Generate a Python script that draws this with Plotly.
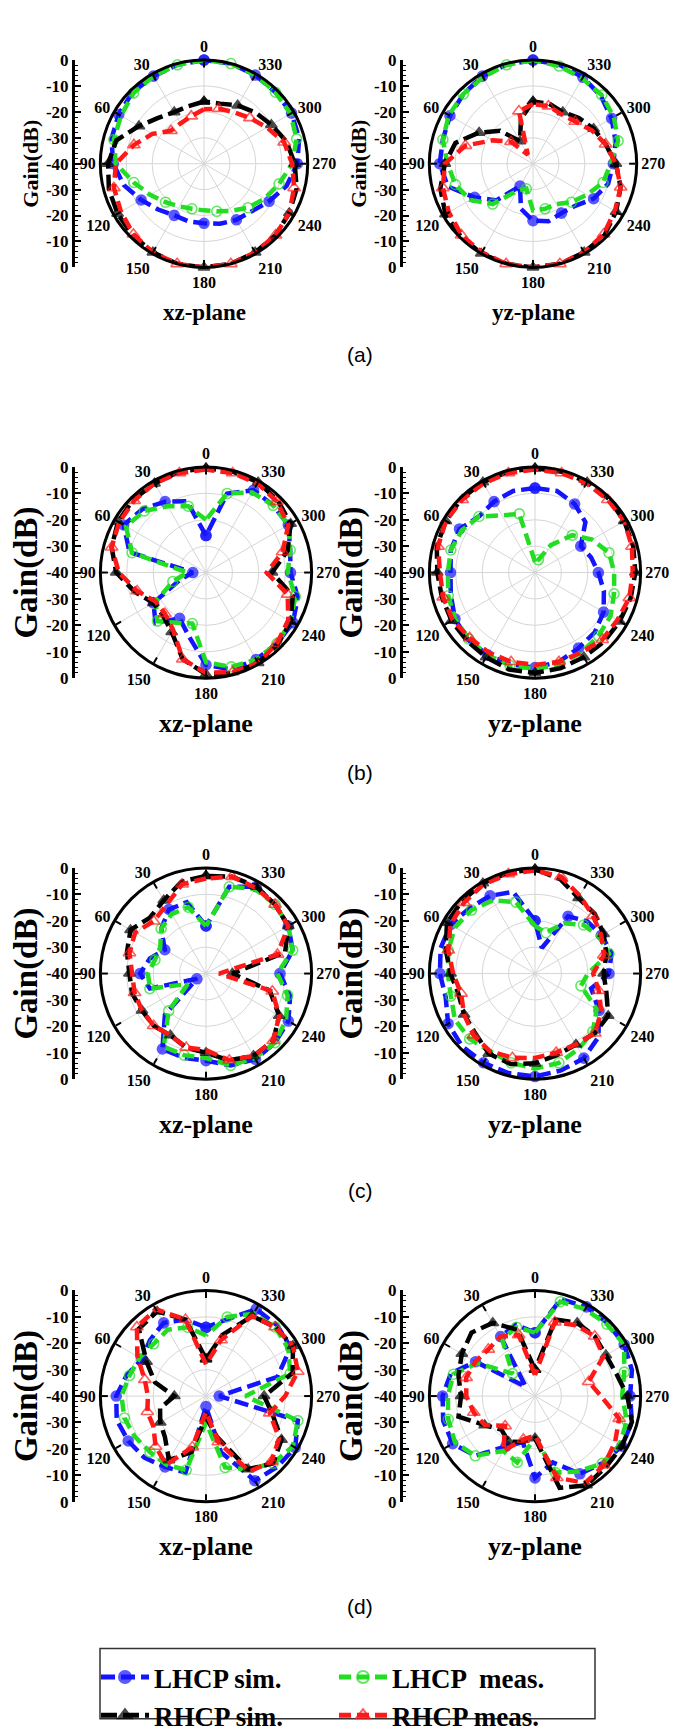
import plotly.graph_objects as go

W, H = 678, 1732
SERIF = "Liberation Serif"
SANS = "Liberation Sans"

# ---------------- data ----------------
ANGLES = list(range(0, 360, 15))
ANG_TICKS = list(range(0, 360, 30))
GAIN_TICKS = ["0", "-10", "-20", "-30", "-40", "-30", "-20", "-10", "0"]
SERIES_NAMES = ["LHCP sim.", "LHCP  meas.", "RHCP sim.", "RHCP meas."]
PANEL_LABELS = ["(a)", "(b)", "(c)", "(d)"]
PLANE_LABELS = ["xz-plane", "yz-plane"]

A_XZ_LHCP_SIM = [0, -0.5, -1, -1, -2, -3, -5, -8, -12, -15, -17, -17, -17, -16, -15, -14, -11, -7, -4, -2, -1, -1, -0.5, 0]
A_XZ_LHCP_MEAS = [0, -0.5, -1, -1.5, -3, -4, -6, -12, -16, -19, -21, -22, -22, -21, -19, -16, -13, -10, -6, -3, -1.5, -1, -0.5, 0]
A_XZ_RHCP_SIM = [-16, -17, -17, -15, -11, -5, -3, -2, -1.5, -1, -0.5, 0, 0, 0, -0.5, -1, -2, -3, -5, -7, -10, -12, -14, -16]
A_XZ_RHCP_MEAS = [-19, -21, -22, -22, -17, -12, -6, -4, -3, -1.5, -0.5, 0, 0, 0, -0.5, -1, -2, -4, -6, -8, -12, -15, -17, -18]

A_YZ_LHCP_SIM = [0, -0.5, -1, -2, -3, -4, -4, -6, -14, -20, -30, -22, -18, -17, -18, -17, -13, -10, -9, -7, -5, -3, -1.5, -0.5]
A_YZ_LHCP_MEAS = [0, -0.5, -1.5, -2, -2.5, -4, -7, -9, -12, -18, -28, -30, -22, -22, -22, -19, -16, -12, -10, -6, -4, -2.5, -2, -1]
A_YZ_RHCP_SIM = [-16, -22, -30, -22, -16, -9, -6, -3, -1, -0.5, 0, 0, 0, 0, -0.5, -1, -3, -5, -8, -11, -13, -15, -17, -16]
A_YZ_RHCP_MEAS = [-17, -19, -36, -28, -22, -13, -6, -4, -2.5, -1, -0.5, 0, 0, 0, -0.5, -1.5, -3.5, -5, -8, -11, -14, -17, -18, -17]

B_XZ_LHCP_SIM = [-26, -12, -9, -6, -4, -10, -35, -30, -17, -13, -20, -15, -5, -2, -2, -2, -2, -4, -8, -7, -4, -4, -4, -9]
B_XZ_LHCP_MEAS = [-20, -14, -11, -7, -5, -11, -33, -27, -18, -14, -18, -20, -6, -3, -2, -2, -3, -5, -9, -7, -4, -4, -5, -9]
B_XZ_RHCP_SIM = [-0.5, -0.5, -1, -1, -1.5, -3, -6, -12, -17, -17, -14, -6, -1.5, -0.5, -0.5, -1.5, -3, -6, -15, -8, -3, -1.5, -0.5, -0.5]
B_XZ_RHCP_MEAS = [-1, -1, -1, -1.5, -2, -3, -7, -13, -18, -18, -15, -6, -2, -1, -0.5, -2, -4, -8, -17, -10, -4, -2, -1, -1]

B_YZ_LHCP_SIM = [-8, -8, -9, -10, -7, -7, -8, -7, -5, -4, -4, -4, -4, -5, -7, -8, -10, -13, -16, -18, -20, -13, -10, -8]
B_YZ_LHCP_MEAS = [-36, -17, -15, -10, -8, -7, -7, -6, -5, -4.5, -4, -3.5, -3.5, -4, -5, -6, -7, -9, -10, -11, -15, -20, -28, -35]
B_YZ_RHCP_SIM = [-0.5, -0.5, -0.5, -0.5, -1, -1.5, -3, -3.5, -3.5, -3.5, -3, -2, -2, -2.5, -3, -3, -3, -2.5, -2, -1.5, -1, -0.5, -0.5, -0.5]
B_YZ_RHCP_MEAS = [-1, -1, -1, -1, -1, -2, -4, -4, -4, -5, -5, -5, -5, -5, -5, -4, -4, -3, -3, -2, -1, -1, -1, -1]

C_XZ_LHCP_SIM = [-22, -12, -12, -16, -22, -18, -15, -18, -36, -18, -7, -7, -7, -4, -2.5, -3, -4, -7, -12, -6, -4, -3, -2, -6]
C_XZ_LHCP_MEAS = [-22, -14, -14, -16, -20, -20, -18, -18, -32, -20, -8, -8, -8, -4, -3, -3, -5, -8, -13, -6, -4, -3, -3, -6]
C_XZ_RHCP_SIM = [-3, -4, -8, -10, -7, -9, -11, -11, -12, -12, -13, -11, -10, -6, -4, -4, -8, -15, -30, -9, -4, -3, -2, -2]
C_XZ_RHCP_MEAS = [-4, -5, -10, -12, -9, -10, -12, -12, -12, -12, -13, -11, -11, -6, -4, -4, -8, -14, -35, -12, -4, -3, -2.5, -2]

C_YZ_LHCP_SIM = [-20, -8, -6, -5, -3, -3, -4, -5, -2, -1, -1, -1, -1, -2, -3, -6, -12, -18, -12, -10, -11, -12, -15, -30]
C_YZ_LHCP_MEAS = [-22, -12, -8, -6, -5, -6, -7, -7, -5, -5, -6, -5, -4, -5, -7, -9, -13, -22, -20, -11, -12, -14, -18, -24]
C_YZ_RHCP_SIM = [-0.5, -0.5, -0.5, -1, -1.5, -5, -8, -10, -9, -8, -5, -4.5, -6, -8, -9, -8, -8, -12, -14, -12, -10, -8, -7, -3]
C_YZ_RHCP_MEAS = [-1, -1, -1, -2, -3, -6, -9, -11, -9, -7, -6, -7, -8, -9, -9, -8, -11, -15, -18, -13, -11, -9, -6, -2]

D_XZ_LHCP_SIM = [-14, -10, -8, -10, -12, -9, -6, -5, -6, -7, -9, -10, -36, -18, -3, -2, -1, -4, -35, -12, -3, -2, -2, -10]
D_XZ_LHCP_MEAS = [-17, -13, -11, -12, -11, -10, -8, -8, -9, -10, -10, -11, -30, -12, -8, -4, -2, -4, -25, -7, -4, -3, -4, -9]
D_XZ_RHCP_SIM = [-26, -10, -3, -4, -14, -20, -28, -22, -20, -18, -12, -18, -32, -24, -8, -4, -7, -14, -18, -6, -2, -3, -5, -16]
D_XZ_RHCP_MEAS = [-28, -10, -2, -3, -10, -16, -18, -17, -17, -13, -10, -20, -34, -22, -7, -5, -8, -15, -10, -4, -2, -3, -5, -18]

D_YZ_LHCP_SIM = [-16, -12, -14, -35, -14, -7, -5, -4, -4, -8, -18, -22, -9, -14, -6, -4, -2, -2, -4, -2, -1, -1, -1, -2]
D_YZ_LHCP_MEAS = [-16, -13, -15, -28, -15, -8, -7, -6, -5, -8, -16, -14, -24, -10, -7, -4, -3, -4, -7, -5, -1, -1.5, -2, -3]
D_YZ_RHCP_SIM = [-30, -14, -8, -6, -8, -10, -12, -10, -18, -22, -20, -22, -24, -4, -1, -2, -2, -2, -5, -8, -9, -8, -8, -10]
D_YZ_RHCP_MEAS = [-32, -16, -14, -15, -14, -13, -14, -16, -18, -24, -16, -23, -25, -8, -2, -3, -5, -7, -15, -19, -10, -8, -9, -11]

PANELS = [
    [(A_XZ_LHCP_SIM, A_XZ_LHCP_MEAS, A_XZ_RHCP_SIM, A_XZ_RHCP_MEAS),
     (A_YZ_LHCP_SIM, A_YZ_LHCP_MEAS, A_YZ_RHCP_SIM, A_YZ_RHCP_MEAS)],
    [(B_XZ_LHCP_SIM, B_XZ_LHCP_MEAS, B_XZ_RHCP_SIM, B_XZ_RHCP_MEAS),
     (B_YZ_LHCP_SIM, B_YZ_LHCP_MEAS, B_YZ_RHCP_SIM, B_YZ_RHCP_MEAS)],
    [(C_XZ_LHCP_SIM, C_XZ_LHCP_MEAS, C_XZ_RHCP_SIM, C_XZ_RHCP_MEAS),
     (C_YZ_LHCP_SIM, C_YZ_LHCP_MEAS, C_YZ_RHCP_SIM, C_YZ_RHCP_MEAS)],
    [(D_XZ_LHCP_SIM, D_XZ_LHCP_MEAS, D_XZ_RHCP_SIM, D_XZ_RHCP_MEAS),
     (D_YZ_LHCP_SIM, D_YZ_LHCP_MEAS, D_YZ_RHCP_SIM, D_YZ_RHCP_MEAS)],
]

# ---------------- layout geometry (px) ----------------
ROW_CY = [150, 568, 978, 1410]
ROW_R = [106, 108, 108, 108]
AXIS_X = [67, 395]          # Gain(dB) scale line, left / right column
LEFT_GAP = [23, 24]         # circle left edge distance from scale line
TITLE_SIZE = [22, 33, 33, 33]
PLANE_SIZE = [23, 26, 26, 26]
LETTER_Y = [345, 772, 1200, 1625]

STYLES = [
    dict(color="#1414ff", symbol="circle", dash="14px,6px", width=4.5, size=10, legend="legend", even=True),
    dict(color="#22dd22", symbol="circle-open", dash="12px,6px", width=4.5, size=10, legend="legend2", even=False),
    dict(color="#000000", symbol="triangle-up", dash="16px,6px", width=4.5, size=10, legend="legend", even=True),
    dict(color="#ff1818", symbol="triangle-up-open", dash="12px,6px", width=4.5, size=11, legend="legend2", even=False),
]


def fx(px):
    return px / W


def fy(py):
    return 1 - py / H


fig = go.Figure()
layout = {}
annotations = []
k = 0
for row in range(4):
    cy, R = ROW_CY[row], ROW_R[row]
    for col in range(2):
        k += 1
        ax_px = AXIS_X[col]
        cx = ax_px + LEFT_GAP[col] + R
        pname = "polar" if k == 1 else f"polar{k}"
        series = PANELS[row][col]
        for si in range(4):
            st = STYLES[si]
            vals = list(series[si])
            theta = ANGLES + [ANGLES[0]]
            r = vals + [vals[0]]
            sizes = [(st["size"] if ((i % 2 == 0) == st["even"]) else 0) for i in range(len(r))]
            fig.add_trace(go.Scatterpolar(
                r=r, theta=theta, mode="lines+markers",
                name=SERIES_NAMES[si], subplot=pname,
                line=dict(color=st["color"], width=st["width"], dash=st["dash"]),
                marker=dict(symbol=st["symbol"], size=sizes, color=st["color"],
                            line=dict(width=1.6, color=st["color"])),
                showlegend=(k == 1), legend=st["legend"],
            ))
        layout[pname] = dict(
            domain=dict(x=[fx(cx - R), fx(cx + R)], y=[fy(cy + R), fy(cy - R)]),
            bgcolor="white",
            angularaxis=dict(
                rotation=90, direction="counterclockwise",
                tickmode="array", tickvals=ANG_TICKS, ticktext=[str(a) for a in ANG_TICKS],
                tickfont=dict(family=SERIF, size=16, color="black", weight="bold"),
                showline=True, linecolor="black", linewidth=3,
                ticks="inside", ticklen=6, tickwidth=2, tickcolor="black",
                showgrid=True, gridcolor="#d6d6d6", gridwidth=1,
            ),
            radialaxis=dict(
                range=[-40, 0], dtick=10, showticklabels=False, ticks="",
                showline=False, showgrid=True, gridcolor="#d6d6d6", gridwidth=1,
            ),
        )
        # Gain(dB) side scale
        xa = f"xaxis{k}"
        ya = f"yaxis{k}"
        layout[xa] = dict(domain=[fx(ax_px), fx(ax_px + 1)], visible=False, anchor=f"y{k}", range=[0, 1])
        n = len(GAIN_TICKS)
        tickpos = [1 - 2 * i / (n - 1) for i in range(n)]
        layout[ya] = dict(
            domain=[fy(cy + R), fy(cy - R)], anchor=f"x{k}", range=[-1, 1],
            tickmode="array", tickvals=tickpos, ticktext=GAIN_TICKS,
            tickfont=dict(family=SERIF, size=17, color="black", weight="bold"),
            showline=True, linecolor="black", linewidth=3,
            ticks="inside", ticklen=6, tickwidth=2, tickcolor="black",
            minor=dict(ticks="inside", ticklen=3, tickwidth=1, tickcolor="black", dtick=0.05, tick0=0),
            showgrid=False, zeroline=False,
            title=dict(text="Gain(dB)", standoff=2,
                       font=dict(family=SERIF, size=TITLE_SIZE[row], color="black", weight="bold")),
        )
        fig.add_trace(go.Scatter(x=[], y=[], xaxis=f"x{k}", yaxis=f"y{k}", showlegend=False, hoverinfo="skip"))
        annotations.append(dict(
            text=PLANE_LABELS[col], x=fx(cx), y=fy(cy + R + 46), xref="paper", yref="paper",
            showarrow=False, xanchor="center", yanchor="middle",
            font=dict(family=SERIF, size=PLANE_SIZE[row], color="black", weight="bold"),
        ))
    annotations.append(dict(
        text=PANEL_LABELS[row], x=fx(352), y=fy(LETTER_Y[row]), xref="paper", yref="paper",
        showarrow=False, xanchor="center", yanchor="middle",
        font=dict(family=SANS, size=21, color="black"),
    ))

legend_font = dict(family=SERIF, size=27, color="black", weight="bold")
fig.update_layout(
    width=W, height=H, margin=dict(l=0, r=0, t=0, b=0),
    paper_bgcolor="white", plot_bgcolor="white",
    annotations=annotations,
    legend=dict(x=fx(88), y=fy(1673), xanchor="left", yanchor="top", font=legend_font,
                itemsizing="constant", itemwidth=48, bgcolor="rgba(0,0,0,0)", tracegroupgap=0),
    legend2=dict(x=fx(326), y=fy(1673), xanchor="left", yanchor="top", font=legend_font,
                 itemsizing="constant", itemwidth=48, bgcolor="rgba(0,0,0,0)", tracegroupgap=0),
    shapes=[dict(type="rect", xref="paper", yref="paper",
                 x0=fx(92), x1=fx(587), y0=fy(1740), y1=fy(1668),
                 line=dict(color="#333333", width=1.5))],
    **layout,
)

fig.write_html("out.html")
